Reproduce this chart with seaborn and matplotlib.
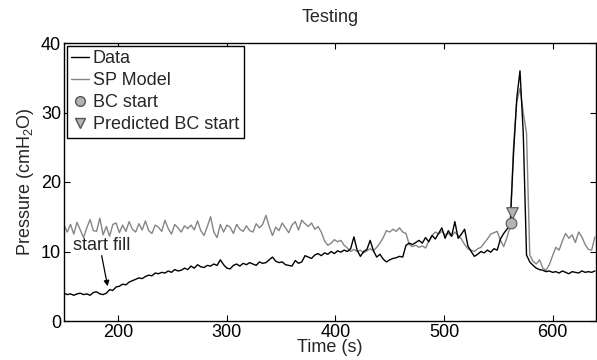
import numpy as np
import pandas as pd
import matplotlib
matplotlib.use("Agg")
import matplotlib.pyplot as plt
import seaborn as sns
from matplotlib.lines import Line2D

# ---------------- data ----------------
time_s = np.arange(150, 640, 3)

data_vals = [
    4.0, 3.8, 3.9, 3.7, 3.9, 4.0, 3.8, 3.9, 3.7, 4.1, 4.2, 3.9, 3.8, 4.0,
    4.5, 4.4, 4.9, 5.0, 5.3, 5.2, 5.6, 5.8, 6.0, 6.2,
    6.1, 6.4, 6.6, 6.5, 6.9, 6.8, 7.0, 6.9, 7.2, 7.0, 7.4, 7.2, 7.3,
    7.6, 7.4, 7.9, 7.6, 8.1, 7.8, 7.7, 8.0, 7.9, 8.2, 8.0, 8.8, 8.1, 7.6,
    7.5, 8.0, 8.2, 7.9, 8.3, 8.1, 8.4, 8.2, 8.0, 8.5, 8.3, 8.4, 8.8, 9.2, 8.6,
    8.4, 8.5, 8.1, 8.0, 7.9, 8.7, 8.3, 8.5, 9.4, 9.2, 9.0, 9.5, 9.7, 9.4, 9.8,
    9.6, 10.0, 9.7, 10.1, 9.9, 10.2, 10.0, 10.4, 12.1, 10.2, 9.3, 10.0, 10.3,
    11.6, 10.1, 9.2, 9.6, 8.9, 8.5, 8.8, 9.0, 9.1, 9.3, 9.2, 10.9,
    11.2, 11.0, 11.3, 11.6, 11.2, 12.0, 11.4, 12.3, 11.8, 12.6, 13.4, 11.9,
    13.0, 12.2, 14.3, 11.9, 12.5, 13.2, 10.8, 10.0, 9.3, 9.6, 10.0, 9.8,
    10.2, 9.9, 10.4, 10.2, 11.8,
    12.6, 13.2, 14.0, 24.0, 32.0, 36.0, 27.0, 9.5, 8.5, 8.0, 7.6, 7.4, 7.3,
    7.1, 7.2, 7.0, 7.1, 6.9, 7.2, 7.0, 6.8, 7.1, 7.0, 6.9, 7.2, 7.0, 7.1,
    7.0, 7.2,
]

model_vals = [
    13.8, 12.8, 13.9, 12.5, 14.2, 13.1, 12.0, 13.4, 14.6, 13.0, 12.9, 14.8,
    12.4, 13.6, 12.2, 13.9, 14.1, 12.7, 13.8, 12.9, 14.3, 13.2, 12.8, 14.0,
    13.1, 14.4, 13.0, 12.6, 13.8, 13.5, 12.9, 14.5, 13.3, 12.5, 13.9, 13.4,
    12.8, 13.7, 13.3, 13.8, 13.1, 14.4, 13.0, 12.3, 13.6, 15.0, 12.8, 12.0,
    13.9, 12.8, 13.8, 13.5, 12.6, 13.9, 13.2, 12.9, 13.7, 13.0, 12.8, 14.0,
    13.4, 13.9, 15.2, 13.6, 12.3, 13.5, 13.0, 14.1, 13.4, 12.7, 13.8, 14.3,
    13.1, 14.5, 14.0, 13.6, 14.1, 13.2, 13.6,
    12.8, 11.5, 10.9, 11.2, 11.7, 11.4, 11.6, 10.9, 10.5, 10.0, 10.3, 10.0,
    10.2, 9.8, 10.1, 10.4, 10.1, 10.6, 11.2, 12.0, 13.0, 12.8, 13.2, 12.9,
    13.4, 12.8, 12.6,
    11.0, 10.7, 10.9, 10.6, 10.8, 10.5, 11.5, 12.3, 12.8, 12.5, 12.9, 12.4,
    12.6, 12.2, 12.8, 12.3, 11.8, 11.0, 10.4, 10.2, 10.0, 10.4, 10.6, 11.2,
    11.8, 12.5, 12.7, 12.9, 11.6,
    10.7, 12.0, 13.6, 25.0, 31.5, 33.5, 30.0, 27.0, 9.5, 8.6, 8.2, 8.8, 7.6,
    7.3, 8.1, 9.4, 10.6, 10.2, 11.5, 12.6, 11.9, 12.4, 11.3, 12.8, 12.1,
    11.0, 10.3, 10.2, 12.1,
]

bc_start_t = [561.4]
bc_start_p = [14.1]
pred_bc_t = [562.3]
pred_bc_p = [15.5]

x_ticks = [200, 300, 400, 500, 600]
y_ticks = [0, 10, 20, 30, 40]

# ---------------- style ----------------
sns.set_theme(style="white")
plt.rcParams["font.family"] = ["Liberation Sans", "DejaVu Sans"]
plt.rcParams["mathtext.fontset"] = "custom"
plt.rcParams["mathtext.rm"] = "Liberation Sans"
plt.rcParams["mathtext.it"] = "Liberation Sans:italic"

FS = 13

fig = plt.figure(figsize=(5.97, 3.6), dpi=100)
ax = fig.add_axes([64 / 597, 39 / 360, 532 / 597, 278 / 360])

df = pd.DataFrame({"t": time_s, "data": data_vals, "model": model_vals})

sns.lineplot(data=df, x="t", y="model", ax=ax, color="#858585", lw=1.0,
             zorder=2, legend=False)
sns.lineplot(data=df, x="t", y="data", ax=ax, color="black", lw=1.0,
             zorder=3, legend=False)

sns.scatterplot(x=pred_bc_t, y=pred_bc_p, ax=ax, marker="v", s=70,
                color="#b4b4b4", edgecolor="#555555", linewidth=0.8,
                zorder=5, legend=False)
sns.scatterplot(x=bc_start_t, y=bc_start_p, ax=ax, marker="o", s=60,
                color="#b4b4b4", edgecolor="#555555", linewidth=0.8,
                zorder=6, legend=False)

ax.set_xlim(150, 640)
ax.set_ylim(0, 40)
ax.set_xticks(x_ticks)
ax.set_yticks(y_ticks)
ax.set_xticklabels([str(v) for v in x_ticks], fontsize=FS)
ax.set_yticklabels([str(v) for v in y_ticks], fontsize=FS)
ax.tick_params(direction="in", length=4, width=0.8, top=True, right=True,
               bottom=True, left=True, pad=2, colors="black")
for sp in ax.spines.values():
    sp.set_color("black")
    sp.set_linewidth(1.0)

ax.set_title("Testing", fontsize=FS, pad=15)
ax.set_xlabel("Time (s)", fontsize=FS, labelpad=-1)
ax.set_ylabel(r"Pressure (cmH$\mathregular{_2}$O)", fontsize=FS, labelpad=4)

# annotation
ax.text(158, 10.9, "start fill", fontsize=FS, va="center", ha="left")
ax.annotate("", xy=(190.2, 5.0), xytext=(184.7, 9.4),
            arrowprops=dict(arrowstyle="-|>", color="black", lw=0.9,
                            mutation_scale=8, shrinkA=0, shrinkB=0))

handles = [
    Line2D([], [], color="black", lw=1.0),
    Line2D([], [], color="#858585", lw=1.0),
    Line2D([], [], marker="o", ls="none", markersize=7,
           markerfacecolor="#b4b4b4", markeredgecolor="#555555"),
    Line2D([], [], marker="v", ls="none", markersize=7,
           markerfacecolor="#b4b4b4", markeredgecolor="#555555"),
]
labels = ["Data", "SP Model", "BC start", "Predicted BC start"]
leg = ax.legend(handles, labels, loc="upper left", fontsize=FS,
                frameon=True, fancybox=False, borderaxespad=0.15,
                handlelength=1.0, handletextpad=0.2, labelspacing=0.28,
                borderpad=0.25)
leg.get_frame().set_edgecolor("black")
leg.get_frame().set_linewidth(1.0)
leg.get_frame().set_alpha(1.0)

fig.savefig("out.png", dpi=100)
